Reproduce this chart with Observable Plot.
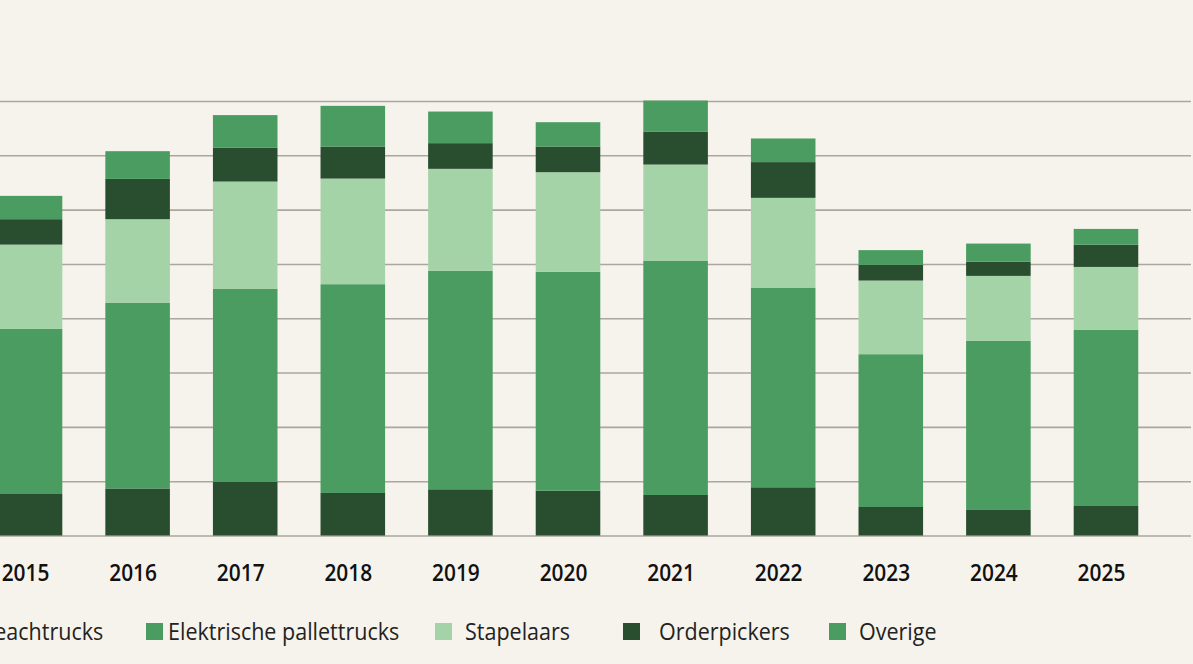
<!DOCTYPE html>
<html>
<head>
<meta charset="utf-8">
<script src="https://cdn.jsdelivr.net/npm/d3@7"></script>
<script src="https://cdn.jsdelivr.net/npm/@observablehq/plot@0.6"></script>
<style>
  html, body { margin: 0; padding: 0; background: #f6f3ec; width: 1193px; height: 664px; overflow: hidden; }
  #wrap { position: relative; width: 1193px; height: 664px; }
  #chart svg { display: block; overflow: hidden; }
  .legend { position: absolute; top: 617px; left: 0; width: 1193px; height: 30px; font-family: "Open Sans", sans-serif; font-size: 23px; color: #222; }
  .legend .sw { position: absolute; top: 6px; width: 17px; height: 17px; }
  .legend .lb { position: absolute; top: 0; line-height: 28px; white-space: nowrap; transform: scaleX(0.935); transform-origin: 0 50%; }
</style>
</head>
<body>
<div id="wrap">
  <div id="chart"></div>
  <div class="legend" id="legend"></div>
</div>
<script>
const years = ["2015","2016","2017","2018","2019","2020","2021","2022","2023","2024","2025"];
const seriesNames = ["Reachtrucks","Elektrische pallettrucks","Stapelaars","Orderpickers","Overige"];
const seriesColors = ["#284d2f","#4a9c60","#a4d3a7","#284d2f","#4a9c60"];
const reachtrucks  = [764, 866, 991, 783, 851, 825, 746, 888, 525, 470, 543];
const pallettrucks = [3039, 3422, 3555, 3844, 4021, 4028, 4316, 3677, 2813, 3113, 3242];
const stapelaars   = [1553, 1536, 1971, 1945, 1879, 1836, 1768, 1652, 1356, 1197, 1160];
const orderpickers = [468, 742, 626, 589, 473, 472, 602, 658, 289, 263, 411];
const overige      = [429, 510, 597, 750, 582, 449, 577, 435, 271, 332, 289];
const gridTicks = [0,1000,2000,3000,4000,5000,6000,7000,8000];

const seriesValues = [reachtrucks, pallettrucks, stapelaars, orderpickers, overige];
const data = [];
years.forEach((y, i) => {
  seriesNames.forEach((s, j) => data.push({year: y, series: s, value: seriesValues[j][i]}));
});

const chart = Plot.plot({
  width: 1193,
  height: 600,
  marginTop: 101,
  marginBottom: 64.5,
  marginLeft: 0,
  marginRight: 2,
  style: {background: "transparent", fontFamily: "Open Sans, sans-serif"},
  x: {domain: years, range: [-45.3, 1181.3], padding: 0.4, round: false, label: null},
  y: {domain: [0, 8000], axis: null},
  color: {domain: seriesNames, range: seriesColors},
  marks: [
    Plot.ruleY(gridTicks, {stroke: "#aca79e", strokeWidth: 1.6}),
    Plot.barY(data, {x: "year", y: "value", fill: "series", order: seriesNames}),
    Plot.axisX({tickSize: 0, tickPadding: 0, dy: 28, dx: -5, fontSize: 24, fontWeight: 600, fill: "#111", label: null})
  ]
});
// slightly narrow the bold year labels
chart.querySelectorAll("g[aria-label='x-axis tick label'] text").forEach(t => {
  const tr = t.getAttribute("transform") || "";
  t.setAttribute("transform", tr + " scale(0.87,1)");
});
document.getElementById("chart").appendChild(chart);

// legend
const legendPos = [[null, null], [146, 168], [435, 465], [623, 659], [829, 859]];
const lg = document.getElementById("legend");
seriesNames.forEach((s, j) => {
  const sw = document.createElement("div");
  sw.className = "sw";
  sw.style.background = seriesColors[j];
  const lb = document.createElement("div");
  lb.className = "lb";
  lb.textContent = s;
  lg.appendChild(sw);
  lg.appendChild(lb);
  if (legendPos[j][0] === null) {
    // first item: label ends at x = 103 (cut off at the left edge)
    const w = lb.getBoundingClientRect().width;
    lb.style.left = (103 - w) + "px";
    sw.style.left = (103 - w - 24) + "px";
  } else {
    sw.style.left = legendPos[j][0] + "px";
    lb.style.left = legendPos[j][1] + "px";
  }
});
</script>
</body>
</html>
